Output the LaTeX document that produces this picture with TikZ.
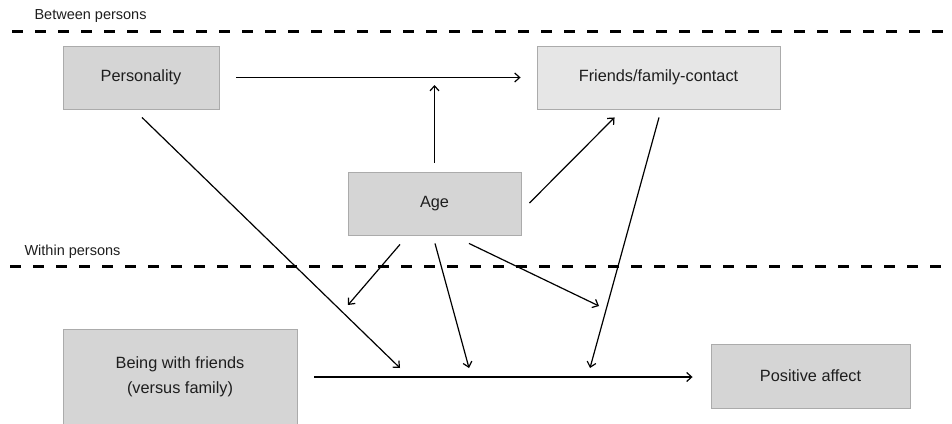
\documentclass[tikz,border=0pt]{standalone}
\usepackage{fontspec}
\setmainfont{Liberation Sans}
\usepackage{xcolor}
\usepackage{tikz}
\usetikzlibrary{arrows.meta, calc}

\definecolor{boxgray}{HTML}{D5D5D5}
\definecolor{boxlight}{HTML}{E6E6E6}
\definecolor{boxline}{HTML}{ABABAB}
\definecolor{txtgray}{HTML}{1E1E1E}

\begin{document}
\begin{tikzpicture}[x=1pt, y=-1pt,
    box/.style={draw=boxline, line width=0.9pt, fill=boxgray, text=txtgray,
        font=\fontsize{16.3}{25}\selectfont, align=center, inner sep=0pt},
    level/.style={text=txtgray, font=\fontsize{14.5}{17}\selectfont, anchor=west},
    divider/.style={line width=3pt, dash pattern=on 11pt off 12pt},
    link/.style={line width=1.2pt, -{Straight Barb[length=5pt, width=9pt]}}]
    \useasboundingbox (0,0) rectangle (952,423);

    % Levels
    \node[level] (between) at (31,16) {Between persons};
    \node[level] (within) at (21,252) {Within persons};
    \draw[divider] (12,31) -- (952,31);
    \draw[divider] (10,266) -- (952,266);

    % Boxes
    \node[box, minimum width=156pt, minimum height=63pt] (pers) at (141,77.5) {Personality};
    \node[box, fill=boxlight, minimum width=243pt, minimum height=63pt] (fam) at (658.5,77.5) {Friends/family-contact};
    \node[box, minimum width=173pt, minimum height=63pt] (age) at (434.5,203.5) {Age};
    \node[box, minimum width=234pt, minimum height=95pt] (being) at (180,376.5) {Being with friends\\(versus family)};
    \node[box, minimum width=199pt, minimum height=64pt] (pos) at (810.5,376) {Positive affect};

    % Free arrow ends
    \coordinate (onpath) at (434.5,85);
    \coordinate (slopeL) at (348,305);
    \coordinate (slopeR) at (599,306);
    \coordinate (hitA) at (400,368);
    \coordinate (hitB) at (469,368);
    \coordinate (hitC) at (590,368);

    % Between-person paths
    \draw[link] ($(pers.east)+(17,0)$) -- ($(fam.west)+(-16,0)$);
    \draw[link] ($(age.north)+(0,-9)$) -- (onpath);
    \draw[link] ($(age.east)+(8,-0.5)$) -- ($(fam.south west)+(78,8)$);

    % Cross-level paths
    \draw[link] ($(pers.south)+(1,8)$) -- (hitA);
    \draw[link] ($(age.south)+(-34.5,9)$) -- (slopeL);
    \draw[link] ($(age.south)+(0.5,8)$) -- (hitB);
    \draw[link] ($(age.south)+(34.5,8)$) -- (slopeR);
    \draw[link] ($(fam.south)+(0.5,8)$) -- (hitC);

    % Within-person path
    \draw[link] ($(being.east)+(17,0.5)$) -- ($(pos.west)+(-18,1)$);
\end{tikzpicture}
\end{document}
